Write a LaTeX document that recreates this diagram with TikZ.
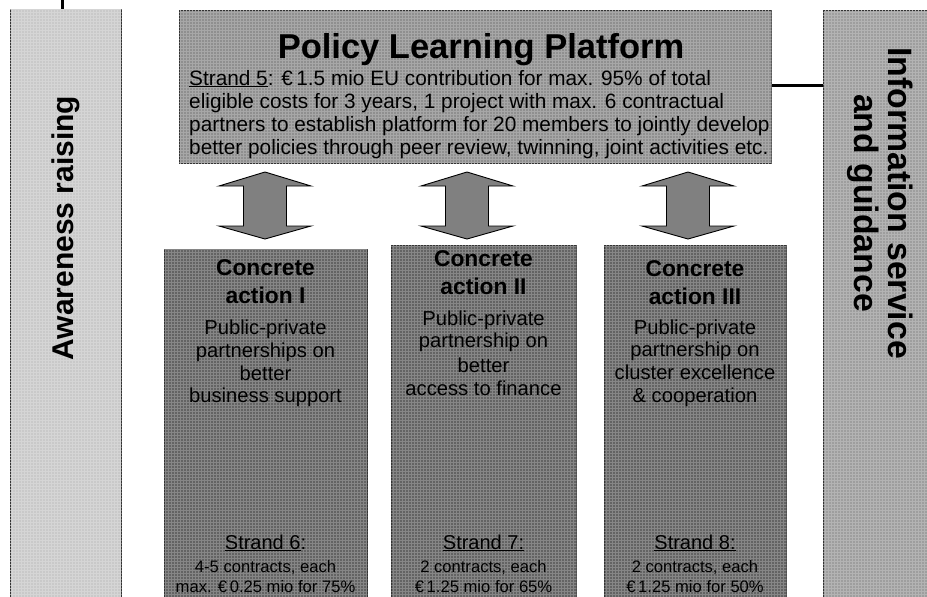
\documentclass[tikz,border=0pt]{standalone}
\usepackage{fontspec}
\setmainfont{Liberation Sans}
\usetikzlibrary{patterns}
\definecolor{awfill}{gray}{0.79}
\definecolor{plfill}{gray}{0.56}
\definecolor{cafill}{gray}{0.39}
\definecolor{infill}{gray}{0.62}
\definecolor{arfill}{gray}{0.50}
\begin{document}
\begin{tikzpicture}[x=1pt,y=-1pt,
  box/.style={draw=black!80, line width=0.8pt, inner sep=0pt, anchor=north west},
  tex/.style={postaction={pattern=grid, pattern color=white!22!#1}},
  ttl/.style={font=\bfseries\fontsize{34.5}{40}\selectfont, inner sep=0pt, anchor=base},
  body/.style={font=\fontsize{20.8}{23}\selectfont, inner sep=0pt, anchor=base west},
  cbold/.style={font=\bfseries\fontsize{22.8}{27}\selectfont, inner sep=0pt, anchor=base},
  cbody/.style={font=\fontsize{20.2}{23}\selectfont, inner sep=0pt, anchor=base},
  strand/.style={font=\fontsize{20}{24}\selectfont, inner sep=0pt, anchor=base},
  small/.style={font=\fontsize{16.6}{20}\selectfont, inner sep=0pt, anchor=base},
  side/.style={font=\bfseries\fontsize{33.8}{36}\selectfont, inner sep=0pt},
  arr/.style={fill=arfill, draw=black, line width=0.9pt, line join=miter},
  link/.style={line width=3pt, draw=black}]
\useasboundingbox (0,0) rectangle (927,597);
\clip (0,0) rectangle (927,597);
\fill[white] (0,0) rectangle (927,597);
% boxes
\node[box, fill=awfill, tex=awfill, minimum width=111, minimum height=600] (aware) at (10,9) {};
\node[box, fill=plfill, tex=plfill, minimum width=592, minimum height=153] (policy) at (179,10) {};
\node[box, fill=infill, tex=infill, minimum width=120, minimum height=600] (info) at (823,10) {};
\node[box, fill=cafill, tex=cafill, minimum width=203, minimum height=360] (ca1) at (164,249) {};
\node[box, fill=cafill, tex=cafill, minimum width=185, minimum height=360] (ca2) at (391,245) {};
\node[box, fill=cafill, tex=cafill, minimum width=182, minimum height=360] (ca3) at (604,245) {};
% connectors
\coordinate (tl) at (62,0);
\draw[link] (tl) -- (tl |- aware.north);
\coordinate (pe) at ([yshift=1.5pt]policy.east);
\draw[link] (pe) -- (info.west |- pe);
% double arrows
\coordinate (ar1) at (265,205.5);
\coordinate (ar2) at (467,205.5);
\coordinate (ar3) at (688,205.5);
\foreach \n in {ar1,ar2,ar3}
  \filldraw[arr, shift={(\n)}] (0,-33.5) -- (46,-19.5) -- (21.5,-19.5) -- (21.5,20.5) -- (46,20.5) -- (0,33.5) -- (-46,20.5) -- (-21.5,20.5) -- (-21.5,-19.5) -- (-46,-19.5) -- cycle;
% side texts
\node[side, font=\bfseries\fontsize{30}{36}\selectfont, rotate=90] (awt) at (66,228) {Awareness raising};
\node[side, rotate=-90] (inft1) at (901,203) {Information service};
\node[side, rotate=-90] (inft2) at (863,203) {and guidance};
% policy texts
\node[ttl] (pt) at (481,58) {Policy Learning Platform};
\node[body] (pb1) at (189,85) {\underline{Strand 5}: €\,1.5 mio EU contribution for max. 95\% of total};
\node[body] (pb2) at (189,108) {eligible costs for 3 years, 1 project with max. 6 contractual};
\node[body] (pb3) at (189,131) {partners to establish platform for 20 members to jointly develop};
\node[body] (pb4) at (189,154) {better policies through peer review, twinning, joint activities etc.};
% concrete action I
\node[cbold] (c1a) at (265.5,275) {Concrete};
\node[cbold] (c1b) at (265.5,303) {action I};
\node[cbody] (c1c) at (265.5,334) {Public-private};
\node[cbody] (c1d) at (265.5,357) {partnerships on};
\node[cbody] (c1e) at (265.5,380) {better};
\node[cbody] (c1f) at (265.5,402) {business support};
\node[strand] (c1g) at (265.5,549) {\underline{Strand 6}:};
\node[small] (c1h) at (265.5,572) {4-5 contracts, each};
\node[small] (c1i) at (265.5,592) {max. €\,0.25 mio for 75\%};
% concrete action II
\node[cbold] (c2a) at (483.5,266) {Concrete};
\node[cbold] (c2b) at (483.5,294) {action II};
\node[cbody] (c2c) at (483.5,325) {Public-private};
\node[cbody] (c2d) at (483.5,347) {partnership on};
\node[cbody] (c2e) at (483.5,372) {better};
\node[cbody] (c2f) at (483.5,395) {access to finance};
\node[strand] (c2g) at (483.5,549) {\underline{Strand 7:}};
\node[small] (c2h) at (483.5,572) {2 contracts, each};
\node[small] (c2i) at (483.5,592) {€\,1.25 mio for 65\%};
% concrete action III
\node[cbold] (c3a) at (695,276) {Concrete};
\node[cbold] (c3b) at (695,304) {action III};
\node[cbody] (c3c) at (695,334) {Public-private};
\node[cbody] (c3d) at (695,356) {partnership on};
\node[cbody] (c3e) at (695,379) {cluster excellence};
\node[cbody] (c3f) at (695,402) {\& cooperation};
\node[strand] (c3g) at (695,549) {\underline{Strand 8:}};
\node[small] (c3h) at (695,572) {2 contracts, each};
\node[small] (c3i) at (695,592) {€\,1.25 mio for 50\%};
\end{tikzpicture}
\end{document}
